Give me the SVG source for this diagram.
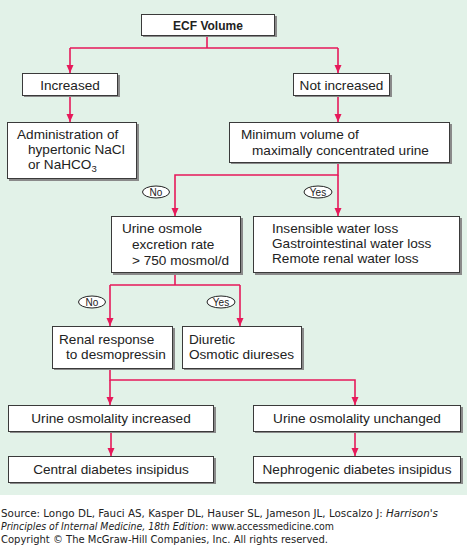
<svg xmlns="http://www.w3.org/2000/svg" width="467" height="550" viewBox="0 0 467 550">
<defs>
<style>
.bg{fill:#e2f2e8}
.sh{fill:#8a8a8a}
.box{fill:#ffffff;stroke:#3a3a3a;stroke-width:1}
.t{font-family:"Liberation Sans",Arial,sans-serif;font-size:13.6px;fill:#222}
.tb{font-family:"Liberation Sans",Arial,sans-serif;font-size:12px;font-weight:bold;fill:#222}
.c{fill:none;stroke:#e6195a;stroke-width:1.6}
.ov{fill:#ffffff;stroke:#222;stroke-width:1}
.lab{font-family:"Liberation Sans",Arial,sans-serif;font-size:10px;fill:#222}
.f{font-family:"DejaVu Sans",Verdana,sans-serif;font-size:9.8px;fill:#222}
</style>
<marker id="ah" markerUnits="userSpaceOnUse" markerWidth="8" markerHeight="8" refX="8" refY="3.5" orient="auto">
<path d="M0,0 L8,3.5 L0,7 z" fill="#e6195a"/>
</marker>
</defs>
<rect class="bg" x="0" y="0" width="467" height="495"/>

<g id="connectors">
<path class="c" d="M207,36 V48 M70,48 H338"/>
<path class="c" d="M70,48 V73" marker-end="url(#ah)"/>
<path class="c" d="M338,48 V73" marker-end="url(#ah)"/>
<path class="c" d="M70,96 V122" marker-end="url(#ah)"/>
<path class="c" d="M338,96 V122" marker-end="url(#ah)"/>
<path class="c" d="M338,163 V175 H175 V216" marker-end="url(#ah)"/>
<path class="c" d="M338,175 V216" marker-end="url(#ah)"/>
<path class="c" d="M175,274 V285 M110,285 H240"/>
<path class="c" d="M110,285 V326" marker-end="url(#ah)"/>
<path class="c" d="M240,285 V326" marker-end="url(#ah)"/>
<path class="c" d="M110,369 V380 H355 V405" marker-end="url(#ah)"/>
<path class="c" d="M110,380 V405" marker-end="url(#ah)"/>
<path class="c" d="M111,432 V456" marker-end="url(#ah)"/>
<path class="c" d="M355,432 V456" marker-end="url(#ah)"/>
</g>

<g id="label-no1"><ellipse class="ov" cx="156" cy="192" rx="13.5" ry="6"/><text class="lab" x="156" y="195.6" text-anchor="middle">No</text></g>
<g id="label-yes1"><ellipse class="ov" cx="318" cy="192" rx="14" ry="6"/><text class="lab" x="318" y="195.6" text-anchor="middle">Yes</text></g>
<g id="label-no2"><ellipse class="ov" cx="92" cy="302" rx="13.5" ry="6"/><text class="lab" x="92" y="305.6" text-anchor="middle">No</text></g>
<g id="label-yes2"><ellipse class="ov" cx="221" cy="302" rx="14" ry="6"/><text class="lab" x="221" y="305.6" text-anchor="middle">Yes</text></g>

<g id="ecf">
<rect class="sh" x="143" y="16" width="134" height="21"/>
<rect class="box" x="141.5" y="14.5" width="133" height="21"/>
<text class="tb" x="208" y="29.5" text-anchor="middle">ECF Volume</text>
</g>

<g id="increased">
<rect class="sh" x="24" y="75" width="96" height="22"/>
<rect class="box" x="22.5" y="73.5" width="95" height="22"/>
<text class="t" x="70" y="89.5" text-anchor="middle">Increased</text>
</g>

<g id="not-increased">
<rect class="sh" x="295" y="75" width="97" height="22"/>
<rect class="box" x="293.5" y="73.5" width="96" height="22"/>
<text class="t" x="341.5" y="89.5" text-anchor="middle">Not increased</text>
</g>

<g id="administration">
<rect class="sh" x="9" y="124" width="130" height="57"/>
<rect class="box" x="7.5" y="122.5" width="129" height="56"/>
<text class="t" x="17" y="139">Administration of</text>
<text class="t" x="28" y="154">hypertonic NaCl</text>
<text class="t" x="28" y="169">or NaHCO<tspan font-size="9.5px" dy="3">3</tspan></text>
</g>

<g id="minimum-volume">
<rect class="sh" x="231" y="124" width="221" height="40"/>
<rect class="box" x="229.5" y="122.5" width="220" height="40"/>
<text class="t" x="241" y="139">Minimum volume of</text>
<text class="t" x="252" y="155">maximally concentrated urine</text>
</g>

<g id="urine-osmole">
<rect class="sh" x="113" y="218" width="130" height="57"/>
<rect class="box" x="111.5" y="216.5" width="129" height="56"/>
<text class="t" x="122" y="232.5">Urine osmole</text>
<text class="t" x="132" y="248.5">excretion rate</text>
<text class="t" x="132" y="264.5">&gt; 750 mosmol/d</text>
</g>

<g id="insensible">
<rect class="sh" x="255" y="218" width="207" height="57"/>
<rect class="box" x="253.5" y="216.5" width="206" height="56"/>
<text class="t" x="272" y="232.5">Insensible water loss</text>
<text class="t" x="272" y="247.5">Gastrointestinal water loss</text>
<text class="t" x="272" y="262.5">Remote renal water loss</text>
</g>

<g id="renal-response">
<rect class="sh" x="54" y="328" width="121" height="42"/>
<rect class="box" x="52.5" y="326.5" width="120" height="42"/>
<text class="t" x="59" y="344">Renal response</text>
<text class="t" x="66" y="359">to desmopressin</text>
</g>

<g id="diuretic">
<rect class="sh" x="184" y="328" width="120" height="42"/>
<rect class="box" x="182.5" y="326.5" width="119" height="42"/>
<text class="t" x="189" y="344">Diuretic</text>
<text class="t" x="189" y="359">Osmotic diureses</text>
</g>

<g id="osmolality-increased">
<rect class="sh" x="10" y="407" width="206" height="26"/>
<rect class="box" x="8.5" y="405.5" width="205" height="26"/>
<text class="t" x="111" y="422.5" text-anchor="middle">Urine osmolality increased</text>
</g>

<g id="osmolality-unchanged">
<rect class="sh" x="255" y="407" width="208" height="26"/>
<rect class="box" x="253.5" y="405.5" width="207" height="26"/>
<text class="t" x="357" y="422.5" text-anchor="middle">Urine osmolality unchanged</text>
</g>

<g id="central-di">
<rect class="sh" x="10" y="458" width="206" height="26"/>
<rect class="box" x="8.5" y="456.5" width="205" height="26"/>
<text class="t" x="111" y="473.5" text-anchor="middle">Central diabetes insipidus</text>
</g>

<g id="nephrogenic-di">
<rect class="sh" x="255" y="458" width="208" height="26"/>
<rect class="box" x="253.5" y="456.5" width="207" height="26"/>
<text class="t" x="357" y="473.5" text-anchor="middle">Nephrogenic diabetes insipidus</text>
</g>

<g id="footer">
<text class="f" x="1" y="516.5" textLength="437" lengthAdjust="spacingAndGlyphs">Source: Longo DL, Fauci AS, Kasper DL, Hauser SL, Jameson JL, Loscalzo J: <tspan font-style="italic">Harrison's</tspan></text>
<text class="f" x="1" y="530" textLength="333" lengthAdjust="spacingAndGlyphs"><tspan font-style="italic">Principles of Internal Medicine, 18th Edition</tspan>: www.accessmedicine.com</text>
<text class="f" x="1" y="543" textLength="327" lengthAdjust="spacingAndGlyphs">Copyright © The McGraw-Hill Companies, Inc. All rights reserved.</text>
</g>
</svg>
